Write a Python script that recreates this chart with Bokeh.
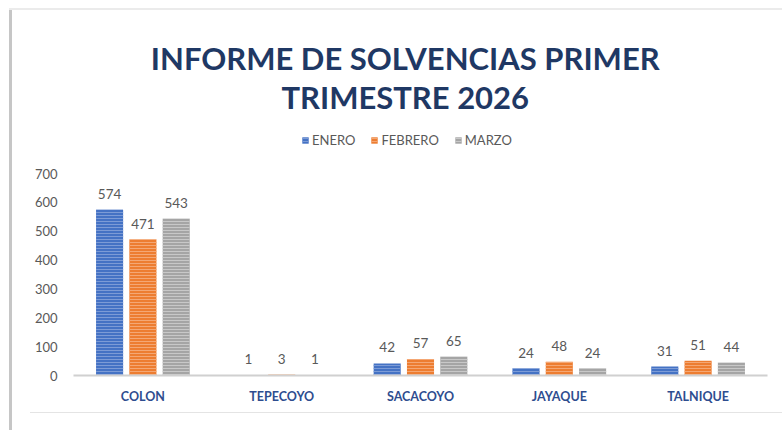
from bokeh.plotting import figure
from bokeh.models import ColumnDataSource, FactorRange, LabelSet, Label, Legend, LegendItem
from bokeh.transform import dodge
from bokeh.core.properties import value
from bokeh.embed import file_html
from bokeh.resources import INLINE

categories = ["COLON", "TEPECOYO", "SACACOYO", "JAYAQUE", "TALNIQUE"]
series_names = ["ENERO", "FEBRERO", "MARZO"]
enero = [574, 1, 42, 24, 31]
febrero = [471, 3, 57, 48, 51]
marzo = [543, 1, 65, 24, 44]
y_ticks = [0, 100, 200, 300, 400, 500, 600, 700]

colors = ["#4472C4", "#ED7D31", "#A5A5A5"]
hatch_colors = ["#7C9BD6", "#F4A774", "#C8C8C8"]

src = ColumnDataSource(dict(cat=categories, ENERO=enero, FEBRERO=febrero, MARZO=marzo,
                            tENERO=[str(v) for v in enero],
                            tFEBRERO=[str(v) for v in febrero],
                            tMARZO=[str(v) for v in marzo]))

W, H = 782, 430
# frame spans from top of figure down to the value axis; 700 lands at 173px
Y_TOP = 375 * 700 / 202
p = figure(x_range=FactorRange(*categories), y_range=(0, Y_TOP), width=W, height=H,
           output_backend="svg", toolbar_location=None,
           min_border_left=73, min_border_right=15, min_border_top=0, min_border_bottom=55)
p.outline_line_color = None
p.border_fill_alpha = 0
p.background_fill_alpha = 0
p.xgrid.grid_line_color = None
p.ygrid.grid_line_color = None
p.styles = {
    "background": ("linear-gradient(#c6c6c6,#c6c6c6) 9px 10px / 3px 100% no-repeat, "
                   "linear-gradient(#ebebeb,#ebebeb) 9px 8px / 100% 2px no-repeat, "
                   "linear-gradient(#e4e4e4,#e4e4e4) 30px 412px / 100% 1px no-repeat, "
                   "#ffffff"),
}

offsets = [-0.24, 0.0, 0.24]
items = []
for name, off, c, hc in zip(series_names, offsets, colors, hatch_colors):
    r = p.vbar(x=dodge("cat", off, range=p.x_range), top=name, width=0.195, source=src,
               fill_color=c, line_color=None, hatch_pattern="horizontal_line",
               hatch_color=hc, hatch_scale=3, hatch_weight=1)
    items.append(LegendItem(label=name, renderers=[r]))
    lbl = LabelSet(x=dodge("cat", off, range=p.x_range), y=name, text="t" + name, source=src,
                   text_align="center", text_baseline="bottom", y_offset=11,
                   text_font=value("Lato"), text_font_size="13.5px", text_color="#595959")
    p.add_layout(lbl)

legend = Legend(items=items, orientation="horizontal", location=(228, 227),
                border_line_color=None, background_fill_alpha=0,
                label_text_font="Lato", label_text_font_size="13px", label_text_color="#595959",
                glyph_width=8, glyph_height=8, spacing=15, padding=0, margin=0,
                label_standoff=3)
p.add_layout(legend, "center")

p.yaxis.ticker = y_ticks
p.yaxis.axis_line_color = None
p.yaxis.major_tick_line_color = None
p.yaxis.minor_tick_line_color = None
p.yaxis.major_label_standoff = 10
p.yaxis.major_label_text_font = "Lato"
p.yaxis.major_label_text_font_size = "13px"
p.yaxis.major_label_text_color = "#595959"

p.xaxis.axis_line_color = "#D0D0D0"
p.xaxis.axis_line_width = 2
p.xaxis.major_tick_line_color = None
p.xaxis.minor_tick_line_color = None
p.xaxis.major_label_standoff = 7
p.xaxis.major_label_text_font = "Lato"
p.xaxis.major_label_text_font_style = "bold"
p.xaxis.major_label_text_font_size = "12.5px"
p.xaxis.major_label_text_color = "#2E4D8F"

title_lines = ["INFORME DE SOLVENCIAS PRIMER", "TRIMESTRE 2026"]
for i, t in enumerate(title_lines):
    p.add_layout(Label(x=2.39, y=(375 - 57 - i * 39) * 700 / 202, text=t,
                       text_align="center", text_baseline="middle",
                       text_font="Lato", text_font_style="bold", text_font_size="31px",
                       text_color="#1F3864"))

open("out.html", "w").write(file_html(p, INLINE))
